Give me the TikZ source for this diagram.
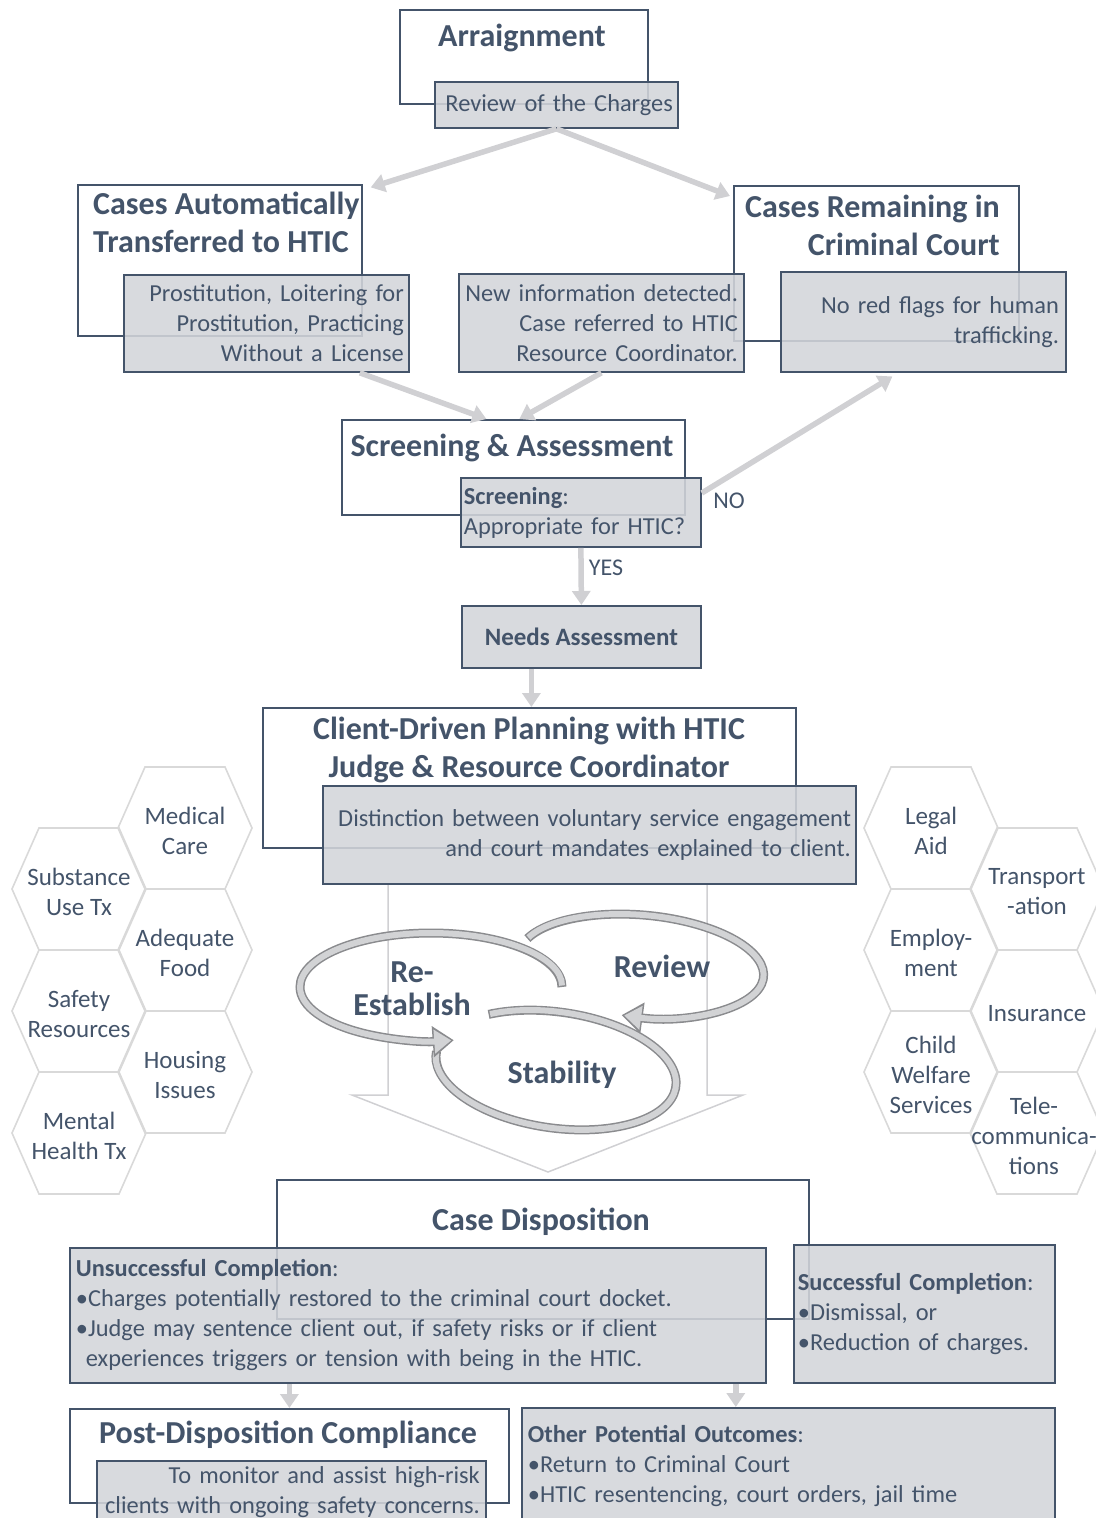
\documentclass[tikz,border=0pt]{standalone}
\usepackage{fontspec}
\setmainfont{Carlito}
\usetikzlibrary{arrows.meta}

\definecolor{slate}{HTML}{44546A}
\definecolor{notegray}{HTML}{D3D5DA}
\definecolor{flowgray}{HTML}{D0D0D3}
\definecolor{hexgray}{HTML}{D9D9D9}
\definecolor{ringfill}{HTML}{D2D3D5}
\definecolor{ringedge}{HTML}{8A8B8E}

\tikzset{
  titlebox/.style={draw=slate, line width=1.8pt, fill=white, anchor=north west, inner sep=0pt},
  notebox/.style={draw=slate, line width=1.8pt, fill=notegray, fill opacity=0.88, text opacity=1,
    text=slate, anchor=north west, inner ysep=0pt, font=\fontsize{24.4}{30}\selectfont},
  titletext/.style={text=slate, inner sep=0pt, font=\fontsize{32}{38}\selectfont\bfseries},
  flow/.style={draw=flowgray, line width=5.5pt, -{Triangle[length=14pt,width=18pt]}},
  hexcell/.style={draw=hexgray, line width=1.6pt},
  hextext/.style={text=slate, align=center, inner sep=0pt, font=\fontsize{25}{30}\selectfont},
  ringout/.style={draw=ringedge, line width=9pt},
  ringin/.style={draw=ringfill, line width=6pt},
  cycletext/.style={text=slate, align=center, inner sep=0pt, font=\fontsize{32}{33}\selectfont\bfseries},
  answer/.style={text=slate, inner sep=0pt, font=\fontsize{24}{28}\selectfont},
}

\begin{document}
\begin{tikzpicture}[x=1pt, y=-1pt]
\useasboundingbox (0,0) rectangle (1095,1518);

% arraignment
\node[titlebox, minimum width=248pt, minimum height=94pt] (arr) at (399,9) {};
\node[titletext] (arr-t) at (522,38) {Arraignment};
\node[notebox, minimum height=46pt, text width=233pt, inner xsep=5pt, align=right] (rev) at (434,81) {Review of the Charges};

% the two branches
\node[titlebox, minimum width=284pt, minimum height=151pt] (auto) at (77,184) {};
\node[titletext, anchor=west, align=left] (auto-t) at (93,222) {Cases Automatically\\Transferred to HTIC};
\node[notebox, minimum height=97pt, text width=275pt, inner xsep=5pt, align=right] (autonote) at (123,274)
  {Prostitution, Loitering for\\Prostitution, Practicing\\Without a License};

\node[titlebox, minimum width=285pt, minimum height=155pt] (crim) at (733,185) {};
\node[titletext, anchor=east, align=right] (crim-t) at (1000,225) {Cases Remaining in\\Criminal Court};
\node[notebox, minimum height=98pt, text width=273pt, inner xsep=6pt, align=right] (newinfo) at (458,273)
  {New information detected.\\Case referred to HTIC\\Resource Coordinator.};
\node[notebox, minimum height=100pt, text width=271pt, inner xsep=7pt, align=right] (redflag) at (780,271)
  {No red flags for human\\trafficking.};

% screening
\node[titlebox, minimum width=343pt, minimum height=95pt] (scr) at (341,419) {};
\node[titletext] (scr-t) at (512,448) {Screening \& Assessment};
\node[notebox, minimum height=69pt, text width=234pt, inner xsep=3pt, align=left] (scrnote) at (460,477)
  {\textbf{Screening}:\\Appropriate for HTIC?};
\node[answer] (no) at (729,501) {NO};
\node[answer] (yes) at (606,568) {YES};
\node[notebox, minimum width=239pt, minimum height=62pt, font=\fontsize{25}{28}\selectfont\bfseries] (needs) at (461,605) {Needs Assessment};

% planning
\node[titlebox, minimum width=533pt, minimum height=140pt] (cli) at (262,707) {};
\node[titletext, align=center] (cli-t) at (529,750) {Client-Driven Planning with HTIC\\Judge \& Resource Coordinator};
\draw[flowgray, line width=1.5pt] (388,884) -- (388,1095) -- (352,1095) -- (548,1172) -- (743,1095) -- (707,1095) -- (707,884);
\node[notebox, minimum height=98pt, text width=523pt, inner xsep=5pt, align=right] (clinote) at (322,785)
  {Distinction between voluntary service engagement\\and court mandates explained to client.};

% cycle
\begin{scope}[shift={(556,1070)}, rotate=-8]
  \draw[ringout] (-128:121 and 58) arc[start angle=-128, end angle=182, x radius=121, y radius=58];
  \draw[ringin, shorten <=1.5pt, shorten >=1.5pt] (-128:121 and 58) arc[start angle=-128, end angle=182, x radius=121, y radius=58];
\end{scope}
\begin{scope}[shift={(641,966)}, rotate=-5]
  \draw[ringout, -{Triangle[length=21pt,width=30pt]}] (-160:123 and 51) arc[start angle=-160, end angle=97, x radius=123, y radius=51];
  \draw[ringin, shorten <=1.5pt, shorten >=2.5pt, -{Triangle[length=17pt,width=23pt]}] (-160:123 and 51) arc[start angle=-160, end angle=97, x radius=123, y radius=51];
\end{scope}
\begin{scope}[shift={(431,987)}]
  \draw[ringout, -{Triangle[length=21pt,width=30pt]}] (0:131 and 54) arc[start angle=0, end angle=-280, x radius=131, y radius=54];
  \draw[ringin, shorten <=1.5pt, shorten >=2.5pt, -{Triangle[length=17pt,width=23pt]}] (0:131 and 54) arc[start angle=0, end angle=-280, x radius=131, y radius=54];
\end{scope}
\node[cycletext] (reest) at (412,989) {Re-\\Establish};
\node[cycletext] (review) at (662,966) {Review};
\node[cycletext] (stab) at (562,1075) {Stability};

% services
\foreach \hx/\hy/\hname/\htext in {
    185/828/med/{Medical\\Care}, 79/889/subst/{Substance\\Use Tx}, 185/950/food/{Adequate\\Food},
    79/1011/safety/{Safety\\Resources}, 185/1072/housing/{Housing\\Issues}, 79/1133/mental/{Mental\\Health Tx},
    931/828/legal/{Legal\\Aid}, 1037/889/transport/{Transport\\-ation}, 931/950/employ/{Employ-\\ment},
    1037/1011/insur/{Insurance}, 931/1072/child/{Child\\Welfare\\Services}}
{
  \draw[hexcell] (\hx-67,\hy) -- (\hx-40,\hy-61) -- (\hx+40,\hy-61) -- (\hx+67,\hy)
    -- (\hx+40,\hy+61) -- (\hx-40,\hy+61) -- cycle;
  \node[hextext] (\hname) at (\hx,\hy+3) {\htext};
}
\draw[hexcell] (970,1133) -- (997,1072) -- (1077,1072) -- (1104,1133) -- (1077,1194) -- (997,1194) -- cycle;
\node[hextext] (tele) at (1034,1136) {Tele-\\communica-\\tions};

% disposition
\node[titlebox, minimum width=532pt, minimum height=139pt] (disp) at (276,1179) {};
\node[titletext] (disp-t) at (541,1222) {Case Disposition};
\node[notebox, minimum height=135pt, text width=684pt, inner xsep=6pt, align=left] (unsucc) at (69,1247)
  {\textbf{Unsuccessful Completion}:\\\textbullet Charges potentially restored to the criminal court docket.\\
   \textbullet Judge may sentence client out, if safety risks or if client\\
   \hspace*{10pt}experiences triggers or tension with being in the HTIC.};
\node[notebox, minimum height=138pt, text width=253pt, inner xsep=4pt, align=left] (succ) at (793,1244)
  {\textbf{Successful Completion}:\\\textbullet Dismissal, or\\\textbullet Reduction of charges.};

\node[titlebox, minimum width=439pt, minimum height=94pt] (post) at (69,1408) {};
\node[titletext] (post-t) at (288,1435) {Post-Disposition Compliance};
\node[notebox, minimum height=63pt, text width=377pt, inner xsep=6pt, align=right] (postnote) at (96,1460)
  {To monitor and assist high-risk\\clients with ongoing safety concerns.};
\node[notebox, minimum height=116pt, text width=521pt, inner xsep=6pt, align=left] (other) at (521,1407)
  {\textbf{Other Potential Outcomes}:\\\textbullet Return to Criminal Court\\\textbullet HTIC resentencing, court orders, jail time};

% connectors
\draw[flow, shorten >=2pt] (rev.south) -- ([shift={(6pt,-4pt)}]auto.north east);
\draw[flow] (rev.south) -- ([shift={(-3pt,-11pt)}]crim.north west);
\draw[flow] ([xshift=-50pt]autonote.south east) -- ([xshift=-27pt]scr.north);
\draw[flow] (newinfo.south) -- ([xshift=6pt]scr.north);
\draw[flow, shorten >=7pt] ([yshift=-16pt]scrnote.north east) -- ([xshift=-25pt]redflag.south);
\draw[flow] (scrnote.south) -- (needs.north);
\draw[flow] ([xshift=-50pt]needs.south) -- ([xshift=-50pt]needs.south |- cli.north);
\draw[flow] (unsucc.south -| post.north) -- (post.north);
\draw[flow] ([xshift=-31pt]unsucc.south east) -- ([xshift=-31pt]unsucc.south east |- other.north);
\end{tikzpicture}
\end{document}
